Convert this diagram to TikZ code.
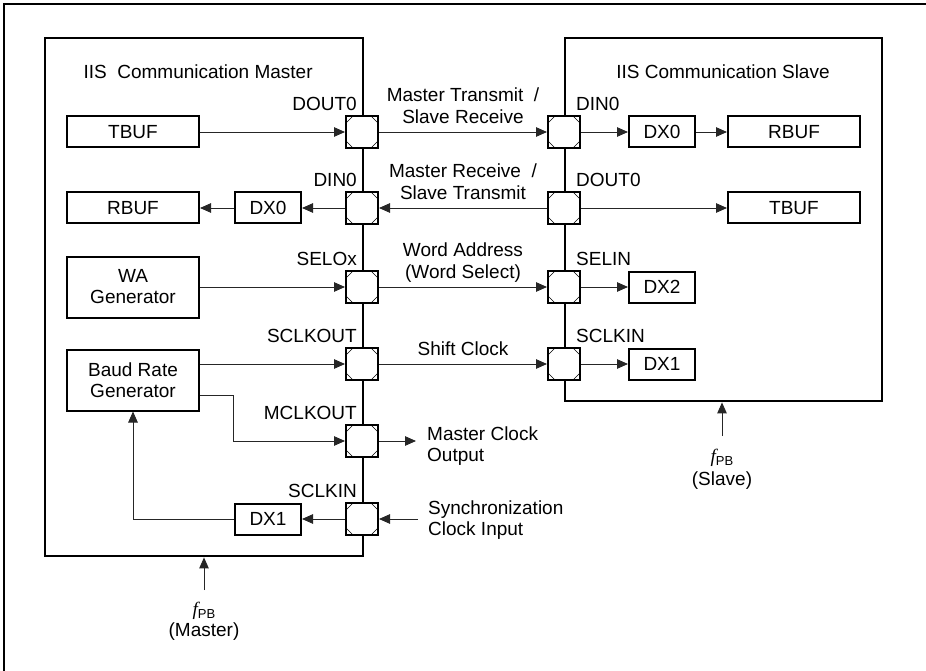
\documentclass[tikz,border=0pt]{standalone}
\usepackage{fontspec}
\setmainfont{Liberation Sans}
\newfontfamily\fserif{Liberation Serif}
\usetikzlibrary{arrows.meta, positioning, calc}

\newcommand{\fpb}{{\fserif\itshape f}\raisebox{-0.25ex}{\fontsize{13}{14}\selectfont PB}}

\begin{document}
\begin{tikzpicture}[
    x=1pt, y=-1pt,
    every node/.style={font=\fontsize{19}{21}\selectfont},
    chip/.style={draw=black, line width=2.4pt, inner sep=0pt},
    box/.style={
        draw=black,
        line width=2pt,
        minimum width=132pt,
        minimum height=31pt,
        inner sep=0pt
    },
    smallbox/.style={box, minimum width=66pt},
    genbox/.style={box, minimum height=61pt, align=center},
    pin/.style={
        draw=black,
        line width=2pt,
        fill=white,
        minimum size=32pt,
        inner sep=0pt,
        path picture={
            \draw[line width=0.6pt]
              ([xshift=7pt]path picture bounding box.north west) -- ([yshift=-7pt]path picture bounding box.north west)
              ([xshift=-7pt]path picture bounding box.north east) -- ([yshift=-7pt]path picture bounding box.north east)
              ([xshift=7pt]path picture bounding box.south west) -- ([yshift=7pt]path picture bounding box.south west)
              ([xshift=-7pt]path picture bounding box.south east) -- ([yshift=7pt]path picture bounding box.south east);
        }
    },
    pinlabel/.style={inner sep=1pt},
    wire/.style={line width=0.9pt, draw=black!85},
    arrow/.style={wire, -{Triangle[length=11pt, width=9.5pt]}},
    midlabel/.style={above, align=center, inner sep=8pt, font=\fontsize{19}{22}\selectfont},
    sidetext/.style={anchor=north west, align=left, inner sep=0pt, font=\fontsize{19}{21}\selectfont}
]

\useasboundingbox (0,0) rectangle (926,671);

% frame
\draw[line width=2.4pt] (4,671) -- (4,4) -- (926,4);

% master and slave blocks
\node[chip, minimum width=318pt, minimum height=518pt, anchor=north west] (master) at (44,37) {};
\node[chip, minimum width=317pt, minimum height=363pt, anchor=north west] (slave) at (564,37) {};

\node[anchor=west] (mtitle) at (80,72) {IIS\ \ Communication Master};
\node (stitle) at (723,72) {IIS Communication Slave};

% pins
\node[pin] (mdout) at (362,132) {};
\node[pin] (mdin) at (362,208) {};
\node[pin] (msel) at (362,287) {};
\node[pin] (msclkout) at (362,364) {};
\node[pin] (mmclk) at (362,441) {};
\node[pin] (msclkin) at (362,519) {};
\node[pin] (sdin) at (564,132) {};
\node[pin] (sdout) at (564,208) {};
\node[pin] (ssel) at (564,287) {};
\node[pin] (ssclk) at (564,364) {};

\node[pinlabel, anchor=south east] (lmdout) at ([xshift=-4pt, yshift=3pt]mdout.north) {DOUT0};
\node[pinlabel, anchor=south east] (lmdin) at ([xshift=-4pt, yshift=3pt]mdin.north) {DIN0};
\node[pinlabel, anchor=south east] (lmsel) at ([xshift=-4pt, yshift=3pt]msel.north) {SELOx};
\node[pinlabel, anchor=south east] (lmsclkout) at ([xshift=-4pt, yshift=3pt]msclkout.north) {SCLKOUT};
\node[pinlabel, anchor=south east] (lmmclk) at ([xshift=-4pt, yshift=3pt]mmclk.north) {MCLKOUT};
\node[pinlabel, anchor=south east] (lmsclkin) at ([xshift=-4pt, yshift=3pt]msclkin.north) {SCLKIN};
\node[pinlabel, anchor=south west] (lsdin) at ([xshift=11pt, yshift=3pt]sdin.north) {DIN0};
\node[pinlabel, anchor=south west] (lsdout) at ([xshift=11pt, yshift=3pt]sdout.north) {DOUT0};
\node[pinlabel, anchor=south west] (lssel) at ([xshift=11pt, yshift=3pt]ssel.north) {SELIN};
\node[pinlabel, anchor=south west] (lssclk) at ([xshift=11pt, yshift=3pt]ssclk.north) {SCLKIN};

% master side blocks
\node[box] (mtbuf) at (133,132) {TBUF};
\node[box] (mrbuf) at (133,208) {RBUF};
\node[smallbox] (mdx0) at (268,208) {DX0};
\node[genbox] (wagen) at (133,287) {WA\\Generator};
\node[genbox] (baud) at (133,380) {Baud Rate\\Generator};
\node[smallbox] (mdx1) at (268,519) {DX1};

% slave side blocks
\node[smallbox] (sdx0) at (662,132) {DX0};
\node[box] (srbuf) at (794,132) {RBUF};
\node[box] (stbuf) at (794,208) {TBUF};
\node[smallbox] (sdx2) at (662,287) {DX2};
\node[smallbox] (sdx1) at (662,364) {DX1};

% data lines
\draw[arrow] (mtbuf) -- (mdout);
\draw[arrow] (mdout) -- node[midlabel] (ltx) {Master Transmit\ \ /\\Slave Receive} (sdin);
\draw[arrow] (sdin) -- (sdx0);
\draw[arrow] (sdx0) -- (srbuf);
\draw[arrow] (sdout) -- node[midlabel] (lrx) {Master Receive\ \ /\\Slave Transmit} (mdin);
\draw[arrow] (sdout) -- (stbuf);
\draw[arrow] (mdin) -- (mdx0);
\draw[arrow] (mdx0) -- (mrbuf);

% word select
\draw[arrow] (wagen) -- (msel);
\draw[arrow] (msel) -- node[midlabel, inner sep=4pt] (lwa) {Word Address\\(Word Select)} (ssel);
\draw[arrow] (ssel) -- (sdx2);

% clocks
\draw[arrow] (baud.east |- msclkout) -- (msclkout);
\draw[arrow] (msclkout) -- node[midlabel] (lsc) {Shift Clock} (ssclk);
\draw[arrow] (ssclk) -- (sdx1);
\draw[arrow] ([yshift=-15pt]baud.east) -- ++(33,0) |- (mmclk);

\coordinate (mcoend) at (416,441);
\draw[arrow] (mmclk) -- (mcoend);
\node[sidetext] (mcotext) at (427,427) {Master Clock\\Output};

\coordinate (syncstart) at (418,519);
\draw[arrow] (syncstart) -- (msclkin);
\node[sidetext] (synctext) at (428,501) {Synchronization\\Clock Input};

\draw[arrow] (msclkin) -- (mdx1);
\draw[arrow] (mdx1) -| (baud);

% peripheral bus clocks
\coordinate (mfpb) at (204,590);
\draw[arrow] (mfpb) -- (mfpb |- master.south);
\node (mfpbtext) at (204,611) {\fpb};
\node (mfpbname) at (204,632) {(Master)};

\coordinate (sfpb) at (722,436);
\draw[arrow] (sfpb) -- (sfpb |- slave.south);
\node (sfpbtext) at (722,458) {\fpb};
\node (sfpbname) at (722,481) {(Slave)};

\end{tikzpicture}
\end{document}
